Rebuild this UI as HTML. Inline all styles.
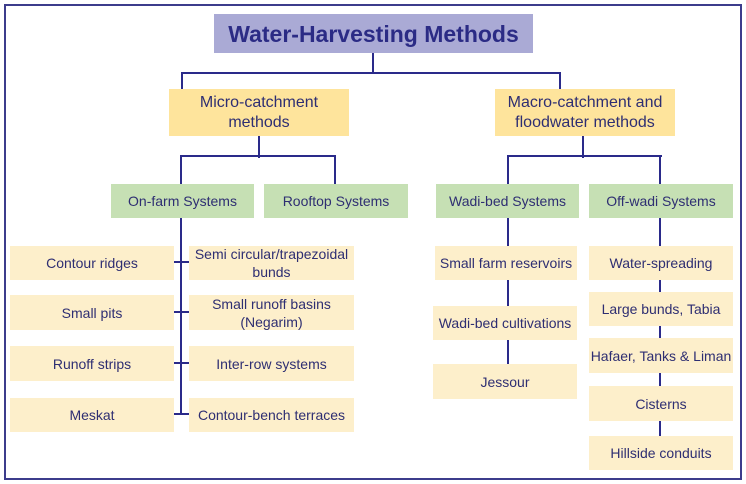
<!DOCTYPE html>
<html><head><meta charset="utf-8"><style>
body{margin:0;width:746px;height:484px;background:#fff;position:relative;overflow:hidden;font-family:"Liberation Sans",Arial,sans-serif}
.b{position:absolute;display:flex;align-items:center;justify-content:center;text-align:center;color:#2e2e72;font-size:14px;line-height:18px}
.y{background:#fee49c;font-size:16px;line-height:20px}
.g{background:#c6e0b4}
.i{background:#fdefcb}
.l{position:absolute;background:#2a2a8a}
</style></head><body>
<div style="position:absolute;left:4px;top:4px;width:734px;height:472px;border:2px solid #3c3c8c"></div>
<div class="b" style="left:214px;top:14px;width:319px;height:39px;background:#aaaad5;font-size:23px;font-weight:bold;color:#2b2b85">Water-Harvesting Methods</div>
<div class="l" style="left:372px;top:53px;width:2px;height:21px"></div>
<div class="l" style="left:181px;top:72px;width:380px;height:2px"></div>
<div class="l" style="left:181px;top:72px;width:2px;height:17px"></div>
<div class="l" style="left:559px;top:72px;width:2px;height:17px"></div>
<div class="b y" style="left:169px;top:89px;width:180px;height:47px">Micro-catchment<br>methods</div>
<div class="b y" style="left:495px;top:89px;width:180px;height:47px">Macro-catchment and<br>floodwater methods</div>
<div class="l" style="left:258px;top:136px;width:2px;height:22px"></div>
<div class="l" style="left:180px;top:155px;width:156px;height:2px"></div>
<div class="l" style="left:180px;top:155px;width:2px;height:29px"></div>
<div class="l" style="left:334px;top:155px;width:2px;height:29px"></div>
<div class="l" style="left:582px;top:136px;width:2px;height:22px"></div>
<div class="l" style="left:507px;top:155px;width:155px;height:2px"></div>
<div class="l" style="left:507px;top:155px;width:2px;height:29px"></div>
<div class="l" style="left:659px;top:155px;width:2px;height:29px"></div>
<div class="b g" style="left:111px;top:184px;width:143px;height:34px">On-farm Systems</div>
<div class="b g" style="left:264px;top:184px;width:144px;height:34px">Rooftop Systems</div>
<div class="b g" style="left:436px;top:184px;width:143px;height:34px">Wadi-bed Systems</div>
<div class="b g" style="left:589px;top:184px;width:144px;height:34px">Off-wadi Systems</div>
<div class="l" style="left:180px;top:218px;width:2px;height:197px"></div>
<div class="l" style="left:174px;top:261px;width:15px;height:2px"></div>
<div class="l" style="left:174px;top:311px;width:15px;height:2px"></div>
<div class="l" style="left:174px;top:362px;width:15px;height:2px"></div>
<div class="l" style="left:174px;top:413px;width:15px;height:2px"></div>
<div class="b i" style="left:10px;top:246px;width:164px;height:34px">Contour ridges</div>
<div class="b i" style="left:10px;top:295px;width:164px;height:35px">Small pits</div>
<div class="b i" style="left:10px;top:346px;width:164px;height:35px">Runoff strips</div>
<div class="b i" style="left:10px;top:398px;width:164px;height:34px">Meskat</div>
<div class="b i" style="left:189px;top:246px;width:165px;height:34px">Semi circular/trapezoidal<br>bunds</div>
<div class="b i" style="left:189px;top:295px;width:165px;height:35px">Small runoff basins<br>(Negarim)</div>
<div class="b i" style="left:189px;top:346px;width:165px;height:35px">Inter-row systems</div>
<div class="b i" style="left:189px;top:398px;width:165px;height:34px">Contour-bench terraces</div>
<div class="l" style="left:507px;top:218px;width:2px;height:148px"></div>
<div class="b i" style="left:435px;top:246px;width:142px;height:34px">Small farm reservoirs</div>
<div class="b i" style="left:433px;top:306px;width:144px;height:34px">Wadi-bed cultivations</div>
<div class="b i" style="left:433px;top:364px;width:144px;height:35px">Jessour</div>
<div class="l" style="left:659px;top:218px;width:2px;height:220px"></div>
<div class="b i" style="left:589px;top:246px;width:144px;height:34px">Water-spreading</div>
<div class="b i" style="left:589px;top:292px;width:144px;height:34px">Large bunds, Tabia</div>
<div class="b i" style="left:589px;top:338px;width:144px;height:35px">Hafaer, Tanks &amp; Liman</div>
<div class="b i" style="left:589px;top:386px;width:144px;height:35px">Cisterns</div>
<div class="b i" style="left:589px;top:436px;width:144px;height:34px">Hillside conduits</div>
</body></html>
